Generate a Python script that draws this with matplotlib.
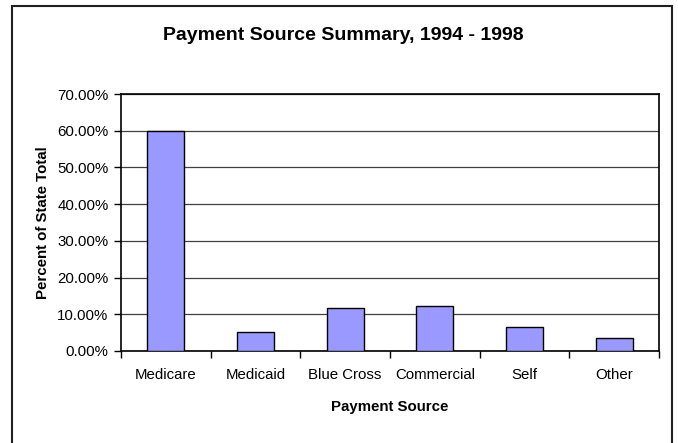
import matplotlib.pyplot as plt
from matplotlib.patches import Rectangle
from matplotlib.ticker import FuncFormatter, MultipleLocator
import numpy as np

plt.rcParams['font.family'] = ['Liberation Sans', 'DejaVu Sans']

# data
sources = ['Medicare', 'Medicaid', 'Blue Cross', 'Commercial', 'Self', 'Other']
percent = [60.0, 5.2, 11.7, 12.2, 6.5, 3.5]

fig = plt.figure(figsize=(6.78, 4.43), dpi=100)
ax = fig.add_axes([121 / 678, 92 / 443, 538 / 678, 257 / 443])

# outer chart border like the excel chart area
fig.patches.append(Rectangle((12 / 678, -0.02), 660 / 678, 1.02 - 6 / 443,
                             transform=fig.transFigure, fill=False,
                             edgecolor='#202020', linewidth=1.5))

x = np.arange(len(sources))
ax.bar(x, percent, width=0.41, color='#9999ff', edgecolor='black',
       linewidth=1.0, zorder=3)

ax.set_xlim(-0.5, len(sources) - 0.5)
ax.set_ylim(0, 70)
ax.yaxis.set_major_locator(MultipleLocator(10))
ax.yaxis.set_major_formatter(FuncFormatter(lambda v, p: '%.2f%%' % v))
ax.grid(axis='y', color='#404040', linewidth=0.9, zorder=0)

ax.set_xticks(x)
ax.set_xticklabels(sources)
ax.set_xticks(np.arange(-0.5, len(sources)), minor=True)
ax.tick_params(axis='x', which='major', length=0, pad=12, labelsize=10.8)
ax.tick_params(axis='x', which='minor', length=5, width=1, direction='out')
ax.tick_params(axis='y', length=5, width=1, direction='out', pad=4,
               labelsize=10.8)

for s in ax.spines.values():
    s.set_linewidth(1.2)
    s.set_color('black')

ax.set_xlabel('Payment Source', fontsize=10.8, fontweight='bold', labelpad=13)
ax.set_ylabel('Percent of State Total', fontsize=10.8, fontweight='bold',
              labelpad=5)
fig.text(343 / 678, 1 - 35 / 443, 'Payment Source Summary, 1994 - 1998',
         ha='center', va='center', fontsize=14, fontweight='bold')

fig.savefig('out.png', dpi=100)
